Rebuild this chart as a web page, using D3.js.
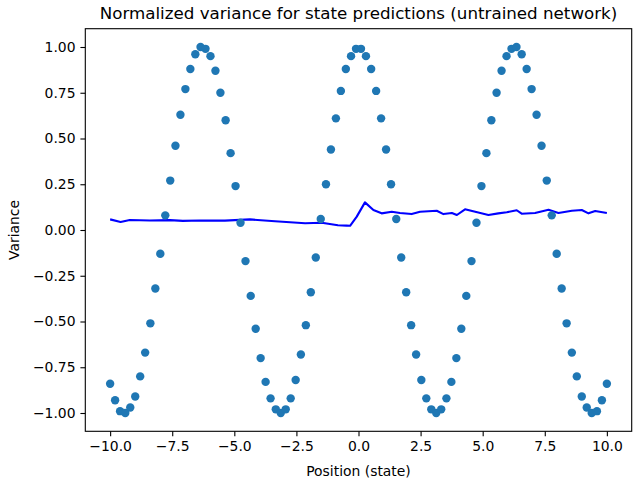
<!DOCTYPE html>
<html>
<head>
<meta charset="utf-8">
<script src="https://cdn.jsdelivr.net/npm/d3@7"></script>
<style>
body { margin: 0; background: #fff; }
text { font-family: "DejaVu Sans", sans-serif; }
</style>
</head>
<body>
<div id="chart"></div>
<script>
// scatter: positions (state) and their target values
var pos = [-10.00,-9.80,-9.60,-9.39,-9.19,-8.99,-8.79,-8.59,-8.38,-8.18,
  -7.98,-7.78,-7.58,-7.37,-7.17,-6.97,-6.77,-6.57,-6.36,-6.16,
  -5.96,-5.76,-5.56,-5.35,-5.15,-4.95,-4.75,-4.55,-4.34,-4.14,
  -3.94,-3.74,-3.54,-3.33,-3.13,-2.93,-2.73,-2.53,-2.32,-2.12,
  -1.92,-1.72,-1.52,-1.31,-1.11,-0.91,-0.71,-0.51,-0.30,-0.10,
  0.10,0.30,0.51,0.71,0.91,1.11,1.31,1.52,1.72,1.92,
  2.12,2.32,2.53,2.73,2.93,3.13,3.33,3.54,3.74,3.94,
  4.14,4.34,4.55,4.75,4.95,5.15,5.35,5.56,5.76,5.96,
  6.16,6.36,6.57,6.77,6.97,7.17,7.37,7.58,7.78,7.98,
  8.18,8.38,8.59,8.79,8.99,9.19,9.39,9.60,9.80,10.00];
var target = [-0.84,-0.93,-0.99,-1.00,-0.97,-0.91,-0.80,-0.67,-0.51,-0.32,
  -0.13,0.08,0.27,0.46,0.63,0.77,0.88,0.96,1.00,0.99,
  0.95,0.87,0.75,0.60,0.42,0.24,0.04,-0.17,-0.36,-0.54,
  -0.70,-0.83,-0.92,-0.98,-1.00,-0.98,-0.92,-0.82,-0.68,-0.52,
  -0.34,-0.15,0.06,0.25,0.44,0.61,0.76,0.88,0.95,0.99,
  0.99,0.95,0.88,0.76,0.61,0.44,0.25,0.06,-0.15,-0.34,
  -0.52,-0.68,-0.82,-0.92,-0.98,-1.00,-0.98,-0.92,-0.83,-0.70,
  -0.54,-0.36,-0.17,0.04,0.24,0.42,0.60,0.75,0.87,0.95,
  0.99,1.00,0.96,0.88,0.77,0.63,0.46,0.27,0.08,-0.13,
  -0.32,-0.51,-0.67,-0.80,-0.91,-0.97,-1.00,-0.99,-0.93,-0.84];

// variance line
var varX = [-10.0,-9.58,-9.21,-8.40,-7.59,-7.07,-6.39,-5.38,-4.37,-3.36,
  -2.15,-1.48,-0.83,-0.48,-0.34,-0.07,0.26,0.60,0.93,1.34,
  1.67,2.14,2.48,3.15,3.42,3.76,3.96,4.29,4.70,5.23,
  5.63,5.97,6.37,6.57,7.11,7.65,8.05,8.59,8.99,9.26,
  9.53,10.0];
var varY = [0.058,0.044,0.055,0.052,0.054,0.050,0.052,0.051,0.058,0.048,
  0.037,0.040,0.026,0.024,0.023,0.073,0.151,0.109,0.091,0.100,
  0.093,0.087,0.100,0.105,0.087,0.093,0.082,0.113,0.100,0.082,
  0.091,0.097,0.108,0.089,0.093,0.111,0.093,0.105,0.109,0.091,
  0.104,0.093];

var xTicks = [-10, -7.5, -5, -2.5, 0, 2.5, 5, 7.5, 10];
var yTicks = [-1, -0.75, -0.5, -0.25, 0, 0.25, 0.5, 0.75, 1];

var W = 644, H = 485;
var m = {left: 85.3, right: 631.7, top: 28.7, bottom: 431.3};

var svg = d3.select("#chart").append("svg")
  .attr("width", W).attr("height", H);

var x = d3.scaleLinear().domain([-11, 11]).range([m.left, m.right]);
var y = d3.scaleLinear().domain([-1.1, 1.1]).range([m.bottom, m.top]);

var line = d3.line()
  .x(function (d) { return x(d[0]); })
  .y(function (d) { return y(d[1]); });

svg.append("path")
  .datum(varX.map(function (v, i) { return [v, varY[i]]; }))
  .attr("d", line)
  .style("fill", "none")
  .style("stroke", "#0000ff")
  .style("stroke-width", 2.1)
  .style("stroke-linejoin", "round");

svg.selectAll("circle.pt")
  .data(pos)
  .enter()
  .append("circle")
  .attr("class", "pt")
  .attr("cx", function (d) { return x(d); })
  .attr("cy", function (d, i) { return y(target[i]); })
  .attr("r", 4.2)
  .style("fill", "#1f77b4");

var xAxis = d3.axisBottom(x).tickValues(xTicks).tickSize(4.9).tickPadding(4.9)
  .tickFormat(function (d) { return d3.format(".1f")(d).replace("-", "\u2212"); });
var yAxis = d3.axisLeft(y).tickValues(yTicks).tickSize(4.9).tickPadding(4.9)
  .tickFormat(function (d) { return d3.format(".2f")(d).replace("-", "\u2212"); });

var gx = svg.append("g").attr("transform", "translate(0," + m.bottom + ")").call(xAxis);
var gy = svg.append("g").attr("transform", "translate(" + m.left + ",0)").call(yAxis);
[gx, gy].forEach(function (g) {
  g.select(".domain").remove();
  g.selectAll("line").style("stroke", "#000").style("stroke-width", 1.1);
  g.selectAll("text").style("font-size", "13.9px").style("fill", "#000")
    .style("font-family", "DejaVu Sans, sans-serif");
});

svg.append("rect")
  .attr("x", m.left).attr("y", m.top)
  .attr("width", m.right - m.left).attr("height", m.bottom - m.top)
  .style("fill", "none").style("stroke", "#000").style("stroke-width", 1.1);

svg.append("text")
  .attr("x", (m.left + m.right) / 2).attr("y", 19)
  .attr("text-anchor", "middle")
  .style("font-size", "16.7px")
  .text("Normalized variance for state predictions (untrained network)");

svg.append("text")
  .attr("x", (m.left + m.right) / 2).attr("y", 476)
  .attr("text-anchor", "middle")
  .style("font-size", "13.9px")
  .text("Position (state)");

svg.append("text")
  .attr("transform", "translate(19," + ((m.top + m.bottom) / 2) + ") rotate(-90)")
  .attr("text-anchor", "middle")
  .style("font-size", "13.9px")
  .text("Variance");
</script>
</body>
</html>
